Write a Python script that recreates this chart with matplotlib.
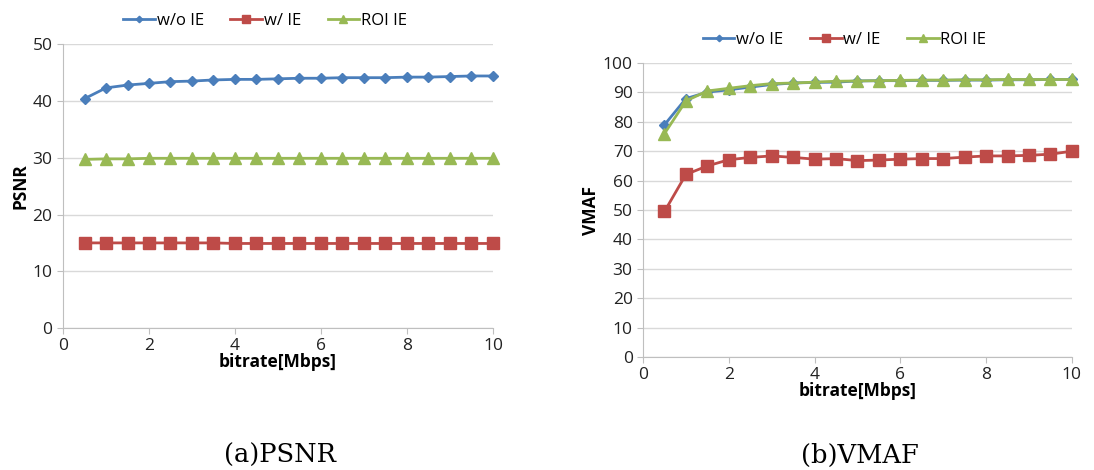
import matplotlib
matplotlib.use('Agg')
import matplotlib.pyplot as plt
from matplotlib import rcParams

rcParams['font.family'] = ['Open Sans', 'DejaVu Sans']

bitrate = [0.5, 1, 1.5, 2, 2.5, 3, 3.5, 4, 4.5, 5, 5.5, 6, 6.5, 7, 7.5, 8, 8.5, 9, 9.5, 10]
labels = ['w/o IE', 'w/ IE', 'ROI IE']

psnr_wo = [40.4, 42.3, 42.8, 43.1, 43.4, 43.5, 43.7, 43.8, 43.8, 43.9,
           44.0, 44.0, 44.1, 44.1, 44.1, 44.2, 44.2, 44.3, 44.4, 44.4]
psnr_w = [15.0, 15.0, 15.0, 15.0, 15.0, 15.0, 15.0, 14.9, 14.9, 14.9,
          14.9, 14.9, 14.9, 14.9, 14.9, 14.9, 14.9, 14.9, 14.9, 14.9]
psnr_roi = [29.7, 29.8, 29.8, 29.9, 29.9, 29.9, 29.9, 29.9, 29.9, 29.9,
            29.9, 29.9, 29.9, 29.9, 29.9, 29.9, 29.9, 29.9, 29.9, 29.9]

vmaf_wo = [79.0, 87.9, 90.1, 90.9, 91.8, 92.7, 93.2, 93.4, 93.5, 93.9,
           94.0, 94.0, 94.1, 94.1, 94.2, 94.2, 94.3, 94.3, 94.4, 94.4]
vmaf_w = [49.5, 62.1, 65.0, 67.1, 67.9, 68.4, 67.9, 67.3, 67.5, 66.8,
          67.0, 67.3, 67.5, 67.5, 68.0, 68.4, 68.4, 68.6, 69.0, 70.0]
vmaf_roi = [76.0, 87.1, 90.5, 91.4, 92.3, 93.0, 93.2, 93.5, 93.8, 93.9,
            94.0, 94.1, 94.2, 94.2, 94.3, 94.3, 94.4, 94.4, 94.4, 94.4]

colors = ['#4A7EBB', '#BE4B48', '#98B954']
markers = ['D', 's', '^']
msizes = [5.5, 8.5, 8.5]


def draw(ax, series, ylim, step, ylabel):
    for i, y in enumerate(series):
        ax.plot(bitrate, y, color=colors[i], marker=markers[i], markersize=msizes[i],
                lw=2, label=labels[i], clip_on=False, zorder=3)
    ax.set_xlim(0, 10)
    ax.set_ylim(0, ylim)
    ax.set_xticks(range(0, 11, 2))
    ax.set_yticks(range(0, ylim + 1, step))
    ax.grid(axis='y', color='#D9D9D9', lw=1)
    ax.set_axisbelow(True)
    for s in ['top', 'right']:
        ax.spines[s].set_visible(False)
    for s in ['left', 'bottom']:
        ax.spines[s].set_color('#BFBFBF')
    ax.tick_params(colors='#BFBFBF', labelcolor='#222222', labelsize=12.5, length=4)
    ax.set_xlabel('bitrate[Mbps]', fontsize=12.5, fontweight='bold', labelpad=-1)
    ax.set_ylabel(ylabel, fontsize=12.5, fontweight='bold', labelpad=2)
    ax.legend(loc='lower center', bbox_to_anchor=(0.47, 1.0), ncol=3, frameon=False,
              fontsize=12, markerscale=0.6, handlelength=1.9, columnspacing=1.6,
              handletextpad=0.1)


fig = plt.figure(figsize=(10.94, 4.70), dpi=100)
ax1 = fig.add_axes([0.0576, 0.302, 0.393, 0.604])
ax2 = fig.add_axes([0.5878, 0.2404, 0.392, 0.6255])

draw(ax1, [psnr_wo, psnr_w, psnr_roi], 50, 10, 'PSNR')
draw(ax2, [vmaf_wo, vmaf_w, vmaf_roi], 100, 10, 'VMAF')

fig.text(0.256, 0.015, '(a)PSNR', fontsize=18.5, family='DejaVu Serif', ha='center')
fig.text(0.786, 0.015, '(b)VMAF', fontsize=18.5, family='DejaVu Serif', ha='center')

fig.savefig('out.png', dpi=100)
